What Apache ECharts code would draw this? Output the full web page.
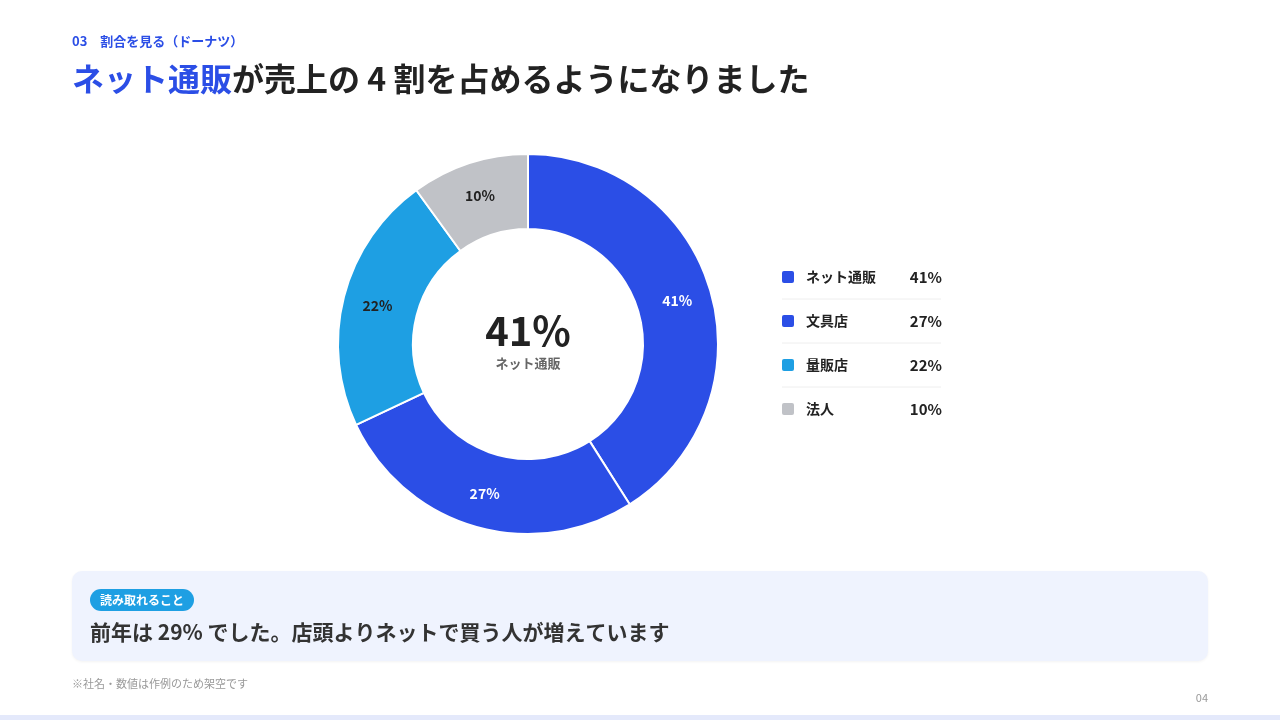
<!DOCTYPE html>
<html>
<head>
<meta charset="utf-8">
<script src="https://cdn.jsdelivr.net/npm/echarts@6/dist/echarts.min.js"></script>
<style>
  html, body { margin: 0; padding: 0; background: #fff; }
  #chart { width: 1280px; height: 720px; }
</style>
</head>
<body>
<div id="chart"></div>
<script>
// データ
const categories = ['ネット通販', '文具店', '量販店', '法人'];
const shares = [41, 27, 22, 10];
const sliceColors = ['#2B4EE6', '#2B4EE6', '#1E9FE3', '#C0C2C7'];
const labelColors = ['#ffffff', '#ffffff', '#222222', '#222222'];

const FONT = '"Noto Sans CJK JP", "Noto Sans", sans-serif';

const chart = echarts.init(document.getElementById('chart'));

// 凡例（右側）
const legendItems = [];
categories.forEach(function (name, i) {
  const y = 277 + i * 44;
  legendItems.push({
    type: 'rect',
    shape: { x: 782, y: y - 6, width: 12, height: 12, r: 2 },
    style: { fill: sliceColors[i] }
  });
  legendItems.push({
    type: 'text',
    x: 806, y: y,
    style: { text: name, font: 'bold 14px ' + FONT, fill: '#222', textVerticalAlign: 'middle' }
  });
  legendItems.push({
    type: 'text',
    x: 942, y: y,
    style: { text: shares[i] + '%', font: 'bold 15px ' + FONT, fill: '#222', textAlign: 'right', textVerticalAlign: 'middle' }
  });
  if (i < categories.length - 1) {
    legendItems.push({
      type: 'line',
      shape: { x1: 782, y1: y + 22, x2: 941, y2: y + 22 },
      style: { stroke: '#EEEEEE', lineWidth: 1 }
    });
  }
});

const option = {
  backgroundColor: '#ffffff',
  textStyle: { fontFamily: FONT },
  series: [{
    type: 'pie',
    center: [528, 344],
    radius: [115, 190],
    startAngle: 90,
    clockwise: true,
    silent: true,
    itemStyle: { borderColor: '#ffffff', borderWidth: 2 },
    label: {
      position: 'inside',
      fontFamily: FONT,
      fontSize: 14,
      fontWeight: 'bold',
      formatter: '{c}%'
    },
    labelLine: { show: false },
    data: categories.map(function (name, i) {
      return {
        name: name,
        value: shares[i],
        itemStyle: { color: sliceColors[i] },
        label: { color: labelColors[i] }
      };
    })
  }],
  graphic: [
    // 見出し
    { type: 'text', x: 72, y: 41, style: { text: '03　割合を見る（ドーナツ）', font: 'bold 13px ' + FONT, fill: '#2B4EE6', textVerticalAlign: 'middle' } },
    {
      type: 'text', x: 72, y: 79,
      style: {
        text: '{a|ネット通販}{b|が売上の 4 割を占めるようになりました}',
        textVerticalAlign: 'middle',
        rich: {
          a: { font: 'bold 32px ' + FONT, fill: '#2B4EE6' },
          b: { font: 'bold 32px ' + FONT, fill: '#222222' }
        }
      }
    },
    // 中央
    { type: 'text', x: 528, y: 331, style: { text: shares[0] + '%', font: 'bold 40px ' + FONT, fill: '#222', textAlign: 'center', textVerticalAlign: 'middle' } },
    { type: 'text', x: 528, y: 363, style: { text: categories[0], font: 'bold 13px ' + FONT, fill: '#666', textAlign: 'center', textVerticalAlign: 'middle' } }
  ].concat(legendItems).concat([
    // 読み取れること
    { type: 'rect', shape: { x: 72, y: 571, width: 1136, height: 90, r: 10 }, style: { fill: '#EFF3FE', shadowColor: 'rgba(0,0,0,0.05)', shadowBlur: 3, shadowOffsetY: 1 } },
    { type: 'rect', shape: { x: 90, y: 589, width: 104, height: 22, r: 11 }, style: { fill: '#1E9FE3' } },
    { type: 'text', x: 142, y: 600, style: { text: '読み取れること', font: 'bold 12px ' + FONT, fill: '#fff', textAlign: 'center', textVerticalAlign: 'middle' } },
    { type: 'text', x: 90, y: 632, style: { text: '前年は 29% でした。店頭よりネットで買う人が増えています', font: 'bold 21px ' + FONT, fill: '#333', textVerticalAlign: 'middle' } },
    // 注記
    { type: 'text', x: 72, y: 684, style: { text: '※社名・数値は作例のため架空です', font: '11px ' + FONT, fill: '#999', textVerticalAlign: 'middle' } },
    { type: 'text', x: 1208, y: 698, style: { text: '04', font: '11px ' + FONT, fill: '#999', textAlign: 'right', textVerticalAlign: 'middle' } },
    { type: 'rect', shape: { x: 0, y: 715, width: 1280, height: 5 }, style: { fill: '#E4E9FB' } }
  ])
};

chart.setOption(option);
</script>
</body>
</html>
